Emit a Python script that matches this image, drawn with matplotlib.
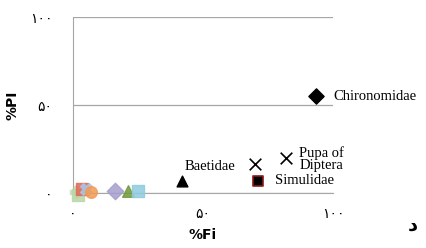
import matplotlib
matplotlib.use("Agg")
import matplotlib.pyplot as plt

# labelled taxa
taxa = ["Chironomidae", "Baetidae", "", "Pupa of\nDiptera", "Simulidae"]
fi = [93.5, 42, 70, 82, 71]
pi = [55, 7, 16.5, 20, 7]
markers = ["D", "^", "x", "x", "s"]

# small taxa crowded near the origin
small_fi = [1, 2, 3.5, 5, 7, 16, 21, 25]
small_pi = [0.5, -1, 2, 2, 0.5, 1, 1, 1]
small_markers = ["P", "s", "s", "X", "o", "D", "^", "s"]
small_colors = ["#c9dcb4", "#b9d6a6", "#e06a5a", "#a9c6e8", "#f39a52",
                "#a69fce", "#6f9a3c", "#8ecbe0"]

xticks = [0, 50, 100]
xticklabels = ["۰", "۵۰", "۱۰۰"]
yticks = [0, 50, 100]
yticklabels = ["۰", "۵۰", "۱۰۰"]

fig = plt.figure(figsize=(4.27, 2.48), dpi=100)
ax = fig.add_axes([0.171, 0.222, 0.609, 0.709])
ax.set_xlim(0, 100)
ax.set_ylim(0, 100)

for x, y, m, c in zip(small_fi, small_pi, small_markers, small_colors):
    ax.scatter(x, y, marker=m, s=70, color=c, alpha=0.85, clip_on=False, zorder=3)

for x, y, m, name in zip(fi, pi, markers, taxa):
    if m == "x":
        ax.scatter(x, y, marker=m, s=70, color="black", linewidths=1.2, zorder=4)
    elif m == "s":
        ax.scatter(x, y, marker=m, s=55, color="black", edgecolors="#8b1a1a",
                   linewidths=1.2, zorder=4)
    else:
        ax.scatter(x, y, marker=m, s=60, color="black", zorder=4)

serif = dict(family="Liberation Serif", fontsize=10.5)
ax.text(fi[0] + 6.5, pi[0], taxa[0], va="center", ha="left", **serif)
ax.text(fi[1] + 1, pi[1] + 8, taxa[1], va="center", ha="left", **serif)
ax.text(fi[3] + 5, pi[3] - 1, taxa[3], va="center", ha="left",
        multialignment="center", linespacing=0.9, **serif)
ax.text(fi[4] + 6.5, pi[4], taxa[4], va="center", ha="left", **serif)

ax.set_xticks(xticks)
ax.set_xticklabels(xticklabels)
ax.set_yticks(yticks)
ax.set_yticklabels(yticklabels)
ax.tick_params(length=0, labelsize=10)
ax.tick_params(axis="x", pad=10)
ax.tick_params(axis="y", pad=15)

ax.grid(axis="y", color="#a6a6a6", linewidth=0.9)
for s in ["top", "right"]:
    ax.spines[s].set_visible(False)
for s in ["left", "bottom"]:
    ax.spines[s].set_color("#a6a6a6")

ax.set_xlabel("%Fi", fontweight="bold", fontsize=10, labelpad=5)
ax.set_ylabel("%PI", fontweight="bold", fontsize=10, labelpad=7)

fig.text(0.967, 0.092, "د", fontsize=14, fontweight="bold", ha="center", va="center")

fig.savefig("out.png", dpi=100)
